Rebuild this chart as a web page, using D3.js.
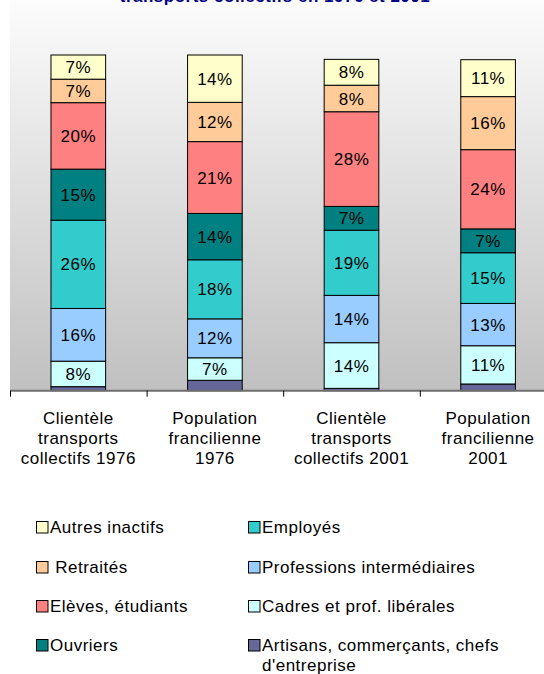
<!DOCTYPE html>
<html>
<head>
<meta charset="utf-8">
<script src="https://cdn.jsdelivr.net/npm/d3@7"></script>
<style>
  body { margin: 0; background: #fff; }
  svg { display: block; font-family: "Liberation Sans", Arial, sans-serif; }
</style>
</head>
<body>
<div id="chart"></div>
<script>
// catégories (une ligne par élément)
const categories = [
  ["Clientèle", "transports", "collectifs 1976"],
  ["Population", "francilienne", "1976"],
  ["Clientèle", "transports", "collectifs 2001"],
  ["Population", "francilienne", "2001"]
];
// séries, de bas en haut de la pile
const seriesNames = [
  "Artisans, commerçants, chefs d'entreprise",
  "Cadres et prof. libérales",
  "Professions intermédiaires",
  "Employés",
  "Ouvriers",
  "Elèves, étudiants",
  "Retraités",
  "Autres inactifs"
];
const artisans   = [1.2, 3.1, 0.7, 2.0];
const cadres     = [7.6, 6.7, 13.6, 11.4];
const profInter  = [15.7, 11.6, 14.1, 12.6];
const employes   = [26.3, 17.6, 19.4, 15.1];
const ouvriers   = [15.2, 13.8, 7.1, 7.1];
const eleves     = [19.8, 21.4, 28.2, 23.6];
const retraites  = [7.0, 11.7, 7.9, 15.8];
const autres     = [7.2, 14.1, 7.7, 11.0];
const seriesValues = [artisans, cadres, profInter, employes, ouvriers, eleves, retraites, autres];
const seriesColors = ["#666699", "#CCFFFF", "#99CCFF", "#33CCCC", "#008080", "#FF8080", "#FFCC99", "#FFFFCC"];
const legendCol1 = ["Autres inactifs", " Retraités", "Elèves, étudiants", "Ouvriers"];
const legendCol2 = ["Employés", "Professions intermédiaires", "Cadres et prof. libérales", ["Artisans, commerçants, chefs", "d'entreprise"]];
const legendCol1Keys = [7, 6, 5, 4];
const legendCol2Keys = [3, 2, 1, 0];
const title = "transports collectifs en 1976 et 2001";

const width = 544, height = 674;
const plot = { left: 10, top: 0, right: 556.4, bottom: 390.7 };

const svg = d3.select("#chart").append("svg")
  .attr("width", width)
  .attr("height", height);

// fond dégradé de la zone de traçage
const grad = svg.append("defs").append("linearGradient")
  .attr("id", "bg")
  .attr("x1", 0).attr("y1", 0).attr("x2", 0).attr("y2", 1);
grad.append("stop").attr("offset", "0%").attr("stop-color", "#FCFCFC");
grad.append("stop").attr("offset", "100%").attr("stop-color", "#C0C0C0");

svg.append("rect")
  .attr("x", plot.left)
  .attr("y", plot.top)
  .attr("width", plot.right - plot.left)
  .attr("height", plot.bottom - plot.top)
  .attr("fill", "url(#bg)");

// titre (coupé en haut, comme l'original)
svg.append("text")
  .attr("x", 275)
  .attr("y", 2)
  .attr("text-anchor", "middle")
  .attr("fill", "#000080")
  .style("font-weight", "bold")
  .style("font-size", "17px")
  .style("letter-spacing", "0.5px")
  .text(title);

const catKeys = categories.map((c, i) => i);

const xTick = d3.scaleBand()
  .domain(catKeys)
  .range([plot.left, plot.right]);

const x = d3.scaleBand()
  .domain(catKeys)
  .range([plot.left, plot.right])
  .paddingInner(0.6)
  .paddingOuter(0.3);

const y = d3.scaleLinear()
  .domain([0, 100])
  .range([plot.bottom, 55]);

// table pour d3.stack
const table = catKeys.map(i => {
  const row = { cat: i };
  seriesNames.forEach((s, k) => { row[s] = seriesValues[k][i]; });
  return row;
});
const stacked = d3.stack().keys(seriesNames)(table);

const layers = svg.append("g").attr("class", "bars")
  .selectAll("g")
  .data(stacked)
  .join("g")
  .attr("fill", (d, k) => seriesColors[k]);

layers.selectAll("rect")
  .data(d => d)
  .join("rect")
  .attr("x", d => x(d.data.cat))
  .attr("y", d => y(d[1]))
  .attr("width", x.bandwidth())
  .attr("height", d => y(d[0]) - y(d[1]))
  .attr("stroke", "#000")
  .attr("stroke-width", 1);

// étiquettes de valeurs (pas pour les artisans)
layers.filter((d, k) => k > 0)
  .selectAll("text")
  .data(d => d)
  .join("text")
  .attr("x", d => x(d.data.cat) + x.bandwidth() / 2)
  .attr("y", d => (y(d[0]) + y(d[1])) / 2)
  .attr("dy", "0.36em")
  .attr("text-anchor", "middle")
  .attr("fill", "#000")
  .style("font-size", "17px")
  .style("letter-spacing", "0.5px")
  .text(d => Math.round(d[1] - d[0]) + "%");

// axe des catégories
const axisG = svg.append("g");
axisG.append("line")
  .attr("x1", plot.left).attr("x2", plot.right)
  .attr("y1", plot.bottom).attr("y2", plot.bottom)
  .attr("stroke", "#6E6E6E")
  .attr("stroke-width", 2);
axisG.selectAll("line.tick")
  .data(catKeys)
  .join("line")
  .attr("class", "tick")
  .attr("x1", d => xTick(d) + 0.5).attr("x2", d => xTick(d) + 0.5)
  .attr("y1", plot.bottom).attr("y2", plot.bottom + 6)
  .attr("stroke", "#000")
  .attr("stroke-width", 1);

axisG.selectAll("text.cat")
  .data(catKeys)
  .join("text")
  .attr("class", "cat")
  .attr("text-anchor", "middle")
  .style("font-size", "17px")
  .style("letter-spacing", "0.5px")
  .attr("fill", "#000")
  .each(function (d) {
    const t = d3.select(this);
    categories[d].forEach((line, j) => {
      t.append("tspan")
        .attr("x", xTick(d) + xTick.bandwidth() / 2)
        .attr("y", 424 + j * 20.2)
        .text(line);
    });
  });

// légende
const legendRows = [533, 573, 612, 651];
function drawLegendCol(labels, keys, sx, tx) {
  const g = svg.append("g");
  labels.forEach((lab, i) => {
    const ry = legendRows[i];
    g.append("rect")
      .attr("x", sx)
      .attr("y", ry - 11.5)
      .attr("width", 11.5)
      .attr("height", 11.5)
      .attr("fill", seriesColors[keys[i]])
      .attr("stroke", "#000")
      .attr("stroke-width", 1);
    const lines = Array.isArray(lab) ? lab : [lab];
    const t = g.append("text")
      .style("font-size", "17px")
      .style("letter-spacing", "0.5px")
      .style("white-space", "pre")
      .attr("fill", "#000");
    lines.forEach((line, j) => {
      t.append("tspan")
        .attr("x", tx)
        .attr("y", ry + j * 20)
        .text(line);
    });
  });
}
drawLegendCol(legendCol1, legendCol1Keys, 36.5, 50);
drawLegendCol(legendCol2, legendCol2Keys, 248.5, 262);
</script>
</body>
</html>
